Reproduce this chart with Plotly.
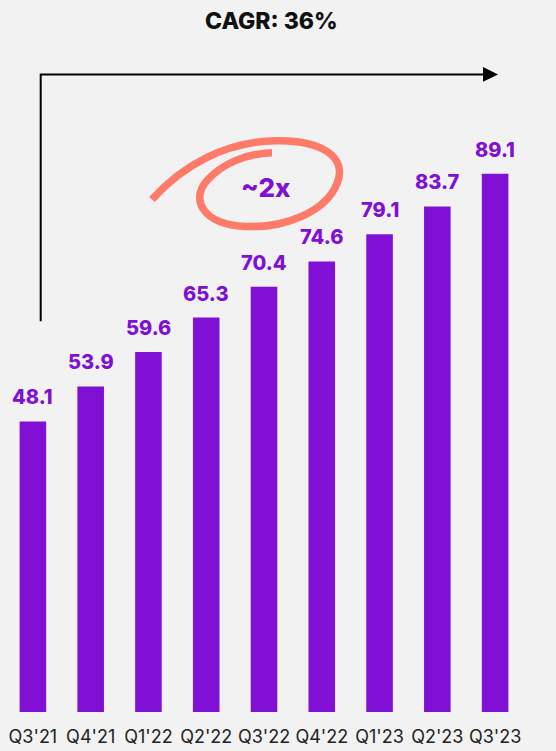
import plotly.graph_objects as go

# Quarterly values
quarters = ["Q3'21", "Q4'21", "Q1'22", "Q2'22", "Q3'22", "Q4'22", "Q1'23", "Q2'23", "Q3'23"]
values = [48.1, 53.9, 59.6, 65.3, 70.4, 74.6, 79.1, 83.7, 89.1]
value_labels = ["48.1", "53.9", "59.6", "65.3", "70.4", "74.6", "79.1", "83.7", "89.1"]
title_text = "CAGR: 36%"
growth_text = "~2x"

W, H = 556, 751
M_L, M_R, M_T, M_B = 4, 32, 40, 37
PX_PER_UNIT = 6.058
Y_MAX = (H - M_T - M_B) / PX_PER_UNIT

PURPLE = "#8010D4"
SALMON = "#FF7B69"
BG = "#F2F2F2"
FONT = "Inter"


def px(x, y):
    """Convert page pixel position to paper coordinates."""
    pw = W - M_L - M_R
    ph = H - M_T - M_B
    return (x - M_L) / pw, (H - M_B - y) / ph


def path_from(points, closed=False):
    parts = []
    for i, (x, y) in enumerate(points):
        u, v = px(x, y)
        parts.append(("M" if i == 0 else "L") + f"{u:.5f},{v:.5f}")
    return " ".join(parts) + (" Z" if closed else "")


def bezier_path(start, segments):
    u, v = px(*start)
    d = f"M{u:.5f},{v:.5f}"
    for c1, c2, end in segments:
        a = px(*c1)
        b = px(*c2)
        e = px(*end)
        d += f" C{a[0]:.5f},{a[1]:.5f} {b[0]:.5f},{b[1]:.5f} {e[0]:.5f},{e[1]:.5f}"
    return d


fig = go.Figure()
fig.add_trace(go.Bar(
    x=quarters,
    y=values,
    marker=dict(color=PURPLE, line=dict(width=0)),
    hoverinfo="skip",
))

# Value labels above each bar
for q, v, t in zip(quarters, values, value_labels):
    fig.add_annotation(
        x=q, y=v, text=t, showarrow=False,
        yanchor="bottom", yshift=10,
        font=dict(family=FONT, size=20, color=PURPLE, weight=800),
    )

# Growth bracket: up from the first bar, across to the last
fig.add_shape(type="path", xref="paper", yref="paper",
              path=path_from([(40.7, 322), (40.7, 74.5), (484, 74.5)]),
              line=dict(color="#000000", width=2))
fig.add_shape(type="path", xref="paper", yref="paper",
              path=path_from([(483, 67), (498, 74.5), (483, 82)], closed=True),
              fillcolor="#000000", line=dict(color="#000000", width=0))

# Hand-drawn loop around the multiplier
loop = bezier_path((152, 200), [
    ((182, 166), (225, 142), (276, 141)),
    ((322, 140), (348, 158), (337, 184)),
    ((326, 212), (285, 229), (245, 227)),
    ((203, 225), (190, 200), (207, 181)),
    ((222, 164), (246, 154), (272, 153)),
])
fig.add_shape(type="path", xref="paper", yref="paper", path=loop,
              line=dict(color=SALMON, width=7.5))

fig.add_annotation(xref="paper", yref="paper",
                   x=px(266, 188)[0], y=px(266, 188)[1],
                   text=growth_text, showarrow=False,
                   xanchor="center", yanchor="middle",
                   font=dict(family=FONT, size=26, color=PURPLE, weight=800))

fig.add_annotation(xref="paper", yref="paper",
                   x=px(271, 21)[0], y=px(271, 21)[1],
                   text=title_text, showarrow=False,
                   xanchor="center", yanchor="middle",
                   font=dict(family=FONT, size=23, color="#111111", weight=800))

fig.update_layout(
    width=W, height=H,
    margin=dict(l=M_L, r=M_R, t=M_T, b=M_B, pad=0),
    paper_bgcolor=BG, plot_bgcolor=BG,
    bargap=0.54,
    showlegend=False,
    xaxis=dict(
        type="category", range=[-0.5, 8.5],
        showgrid=False, zeroline=False, showline=False, ticks="",
        tickfont=dict(family=FONT, size=18, color="#222222"),
        ticklabelstandoff=12,
    ),
    yaxis=dict(
        range=[0, Y_MAX], visible=False, showgrid=False, zeroline=False,
    ),
)

fig.write_html("out.html")
